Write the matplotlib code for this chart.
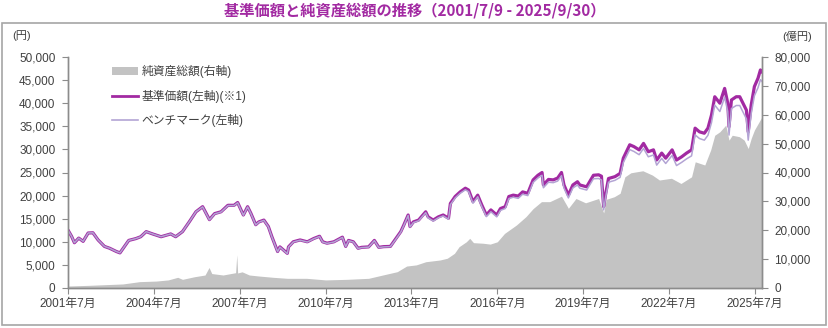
import pandas as pd
import matplotlib.pyplot as plt
from matplotlib.patches import Patch, Rectangle
from matplotlib.lines import Line2D
from matplotlib.ticker import FuncFormatter

plt.rcParams['font.family'] = ['Liberation Sans', 'Noto Sans CJK JP', 'DejaVu Sans']

# 基準価額 / ベンチマーク (円)
nav_dates = [
    "2001-07-09", "2001-08-15", "2001-09-21", "2001-11-15", "2002-01-10", "2002-03-15",
    "2002-05-15", "2002-07-20", "2002-10-09", "2002-12-15", "2003-03-10", "2003-04-25",
    "2003-08-15", "2003-11-15", "2004-01-15", "2004-03-25", "2004-06-15", "2004-10-01",
    "2005-02-01", "2005-04-05", "2005-07-01", "2005-09-25", "2005-12-20", "2006-03-15",
    "2006-06-10", "2006-08-15", "2006-11-05", "2007-02-01", "2007-04-20", "2007-06-05",
    "2007-08-17", "2007-10-10", "2007-11-20", "2008-01-22", "2008-03-01", "2008-05-05",
    "2008-07-01", "2008-08-15", "2008-10-27", "2008-11-25", "2009-02-28", "2009-03-15",
    "2009-05-15", "2009-08-10", "2009-11-10", "2010-01-30", "2010-04-15", "2010-05-25",
    "2010-07-20", "2010-10-15", "2011-02-01", "2011-03-15", "2011-04-20", "2011-06-20",
    "2011-08-20", "2011-10-05", "2012-01-01", "2012-03-15", "2012-05-10", "2012-07-10",
    "2012-10-05", "2012-12-15", "2013-02-15", "2013-03-25", "2013-05-20", "2013-06-13",
    "2013-07-25", "2013-09-30", "2013-12-30", "2014-01-30", "2014-04-05", "2014-06-10",
    "2014-08-10", "2014-10-17", "2014-11-10", "2015-01-10", "2015-03-15", "2015-05-20",
    "2015-07-01", "2015-08-25", "2015-10-25", "2015-12-15", "2016-02-12", "2016-04-10",
    "2016-06-24", "2016-08-10", "2016-10-10", "2016-11-25", "2017-01-20", "2017-03-25",
    "2017-05-20", "2017-07-25", "2017-10-01", "2017-12-01", "2018-01-23", "2018-02-09",
    "2018-04-15", "2018-06-15", "2018-08-10", "2018-09-28", "2018-10-30", "2018-12-25",
    "2019-02-20", "2019-04-20", "2019-05-20", "2019-08-15", "2019-11-10", "2020-01-15",
    "2020-02-20", "2020-03-19", "2020-04-15", "2020-05-20", "2020-08-10", "2020-10-15",
    "2020-11-25", "2021-02-15", "2021-04-10", "2021-06-15", "2021-08-10", "2021-10-10",
    "2021-12-15", "2022-01-25", "2022-03-30", "2022-05-20", "2022-08-10", "2022-10-05",
    "2022-12-10", "2023-02-10", "2023-04-15", "2023-05-30", "2023-07-25", "2023-09-25",
    "2023-11-10", "2023-12-25", "2024-02-05", "2024-04-10", "2024-06-10", "2024-07-20",
    "2024-08-05", "2024-09-05", "2024-11-05", "2024-12-20", "2025-01-30", "2025-03-15",
    "2025-04-07", "2025-05-15", "2025-06-25", "2025-08-10", "2025-09-10", "2025-09-30",
]
nav = [
    12300, 11200, 9800, 10800, 10100, 11900,
    11950, 10400, 9000, 8600, 7900, 7600,
    10300, 10700, 11100, 12200, 11700, 11100,
    11700, 11100, 12200, 14300, 16500, 17600,
    14800, 16100, 16500, 17900, 17900, 18500,
    15800, 17600, 16200, 13700, 14300, 14700,
    13300, 11100, 7900, 8900, 7500, 8900,
    10000, 10400, 10000, 10700, 11200, 10000,
    9700, 10000, 11000, 9000, 10300, 10000,
    8600, 8800, 8900, 10300, 8800, 8950,
    9000, 10700, 12200, 13600, 15800, 13300,
    14300, 14700, 16500, 15400, 14700, 15400,
    15800, 15100, 18300, 19800, 20800, 21600,
    21200, 18700, 20100, 18000, 15800, 16900,
    15800, 17200, 17600, 19800, 20100, 19900,
    20800, 20500, 23400, 24400, 25000, 22300,
    23500, 23400, 23800, 25000, 22300, 20100,
    22300, 23000, 22300, 21900, 24400, 24500,
    24200, 17600, 20500, 23700, 24100, 24800,
    28100, 31000, 30600, 29900, 31300, 29500,
    29900, 27700, 29200, 28100, 29900, 27700,
    28400, 29200, 29900, 34600, 33800, 33500,
    34600, 37400, 41400, 40000, 43200, 40000,
    34900, 40700, 41400, 41400, 40000, 38500,
    33800, 39600, 43600, 45400, 47200, 46800,
]
benchmark = [
    12300, 11200, 9800, 10800, 10100, 11900,
    11950, 10400, 9000, 8600, 7900, 7600,
    10300, 10700, 11100, 12200, 11700, 11100,
    11700, 11100, 12200, 14300, 16500, 17550,
    14750, 16050, 16450, 17850, 17850, 18450,
    15750, 17550, 16150, 13650, 14250, 14650,
    13250, 11050, 7850, 8850, 7450, 8850,
    9950, 10350, 9950, 10650, 11150, 9950,
    9650, 9950, 10950, 8950, 10250, 9950,
    8550, 8750, 8850, 10250, 8750, 8900,
    8950, 10600, 12100, 13500, 15700, 13200,
    14150, 14550, 16300, 15200, 14500, 15200,
    15600, 14900, 18050, 19500, 20500, 21250,
    20850, 18350, 19750, 17650, 15450, 16500,
    15400, 16800, 17200, 19350, 19650, 19400,
    20300, 20000, 22850, 23800, 24400, 21700,
    22900, 22800, 23150, 24300, 21650, 19500,
    21650, 22300, 21600, 21200, 23650, 23700,
    23400, 16900, 19800, 22900, 23300, 23950,
    27150, 29950, 29550, 28850, 30200, 28400,
    28800, 26600, 28050, 26950, 28700, 26500,
    27200, 27950, 28600, 33150, 32350, 32000,
    33050, 35750, 39600, 38200, 41300, 38200,
    33100, 38850, 39500, 39500, 38100, 36600,
    32000, 37700, 41600, 43350, 45100, 44700,
]

# 純資産総額 (億円)
aum_dates = [
    "2001-07-09", "2002-04-01", "2003-06-01", "2004-01-01", "2004-08-01", "2005-01-01",
    "2005-05-01", "2005-07-01", "2005-12-01", "2006-04-15", "2006-06-05", "2006-07-10",
    "2006-12-01", "2007-05-10", "2007-05-25", "2007-06-05", "2007-08-01", "2007-11-01",
    "2008-03-01", "2008-09-01", "2009-03-01", "2009-11-01", "2010-07-01", "2011-04-01",
    "2012-01-01", "2012-07-01", "2013-01-01", "2013-05-01", "2013-09-01", "2014-01-01",
    "2014-07-01", "2014-10-01", "2015-01-01", "2015-03-01", "2015-06-01", "2015-07-15",
    "2015-09-01", "2016-01-01", "2016-04-01", "2016-07-01", "2016-10-01", "2017-03-01",
    "2017-07-01", "2017-10-01", "2018-01-15", "2018-05-01", "2018-09-28", "2018-12-25",
    "2019-04-01", "2019-08-01", "2020-01-15", "2020-03-19", "2020-04-20", "2020-08-01",
    "2020-10-15", "2020-12-15", "2021-03-01", "2021-08-01", "2021-12-01", "2022-03-01",
    "2022-08-01", "2022-12-01", "2023-04-15", "2023-06-01", "2023-10-01", "2023-12-15",
    "2024-02-05", "2024-04-10", "2024-06-25", "2024-08-05", "2024-09-15", "2024-12-15",
    "2025-02-15", "2025-04-07", "2025-05-15", "2025-06-25", "2025-09-30",
]
aum = [
    700, 930, 1400, 2200, 2400, 2800,
    3700, 3000, 3900, 4500, 7100, 5000,
    4500, 5300, 11500, 5200, 5600, 4500,
    4150, 3700, 3350, 3350, 2800, 3000,
    3350, 4500, 5650, 7600, 8000, 9100,
    9700, 10300, 12000, 14300, 16000, 17200,
    15700, 15500, 15200, 16000, 18900, 21800,
    24700, 27500, 29900, 29900, 31800, 27600,
    31000, 29500, 31000, 26000, 30700, 31600,
    32800, 38500, 39900, 40600, 39100, 37400,
    38000, 36200, 38500, 43700, 42600, 47800,
    52900, 54100, 56400, 51200, 52900, 52400,
    51200, 48300, 51800, 54700, 59300,
]

tick_years = [2001, 2004, 2007, 2010, 2013, 2016, 2019, 2022, 2025]

nav_x = pd.to_datetime(nav_dates)
aum_x = pd.to_datetime(aum_dates)

text_color = "#404040"
axis_color = "#8c8c8c"
purple = "#a22aa2"
lavender = "#b3a4d4"
gray = "#c3c3c3"

fig = plt.figure(figsize=(8.29, 3.28), dpi=100)
ax = fig.add_axes([68 / 829, 1 - 288 / 328, (762 - 68) / 829, (288 - 57) / 328])
ax2 = ax.twinx()

# 純資産総額は右軸、価額は左軸（線を面の上に描く）
ax2.fill_between(aum_x, aum, 0, color=gray, lw=0)
ax.plot(nav_x, nav, color=purple, lw=2.3)
ax.plot(nav_x, benchmark, color=lavender, lw=1.1)

ax.set_zorder(ax2.get_zorder() + 1)
ax.patch.set_visible(False)

ax.set_xlim(pd.Timestamp("2001-07-01"), pd.Timestamp("2025-09-30"))
ax.set_ylim(0, 50000)
ax2.set_ylim(0, 80000)
ax.set_yticks(range(0, 50001, 5000))
ax2.set_yticks(range(0, 80001, 10000))
ax.set_xticks([pd.Timestamp(f"{y}-07-01") for y in tick_years])
ax.set_xticklabels([f"{y}年7月" for y in tick_years])

fmt = FuncFormatter(lambda v, p: f"{int(v):,}")
ax.yaxis.set_major_formatter(fmt)
ax2.yaxis.set_major_formatter(fmt)

for a in (ax, ax2):
    a.spines["top"].set_visible(False)
    for s in ("left", "right", "bottom"):
        a.spines[s].set_color(axis_color)
        a.spines[s].set_linewidth(1.0)
    a.tick_params(axis="both", colors=axis_color, labelcolor=text_color,
                  labelsize=8.5, length=4, width=0.8, direction="out")
ax.tick_params(axis="y", pad=5)
ax2.tick_params(axis="y", pad=5)
ax.tick_params(axis="x", pad=3)

handles = [
    Patch(facecolor=gray, edgecolor="none"),
    Line2D([], [], color=purple, lw=2.0),
    Line2D([], [], color=lavender, lw=1.2),
]
labels = ["純資産総額(右軸)", "基準価額(左軸)(※1)", "ベンチマーク(左軸)"]
leg = ax.legend(handles, labels, loc="upper left", bbox_to_anchor=(0.052, 1.0),
                frameon=False, fontsize=8.5, handlelength=2.2, handleheight=0.6,
                handletextpad=0.25, labelspacing=0.95, borderaxespad=0.3)
for t in leg.get_texts():
    t.set_color(text_color)

fig.text(415 / 829, 1 - 11 / 328, "基準価額と純資産総額の推移（2001/7/9 - 2025/9/30）",
         ha="center", va="center", fontsize=11, fontweight="bold", color=purple,
         family=["Noto Sans CJK JP"])
fig.text(12 / 829, 1 - 36 / 328, "(円)", ha="left", va="center", fontsize=8,
         color=text_color)
fig.text(812 / 829, 1 - 36 / 328, "(億円)", ha="right", va="center", fontsize=8,
         color=text_color)

# 外枠
fig.patches.append(Rectangle((2 / 829, 1 - 325 / 328), 824 / 829, 302 / 328,
                             transform=fig.transFigure, fill=False,
                             edgecolor="#a6a6a6", lw=1.2))

fig.savefig("out.png", dpi=100)
